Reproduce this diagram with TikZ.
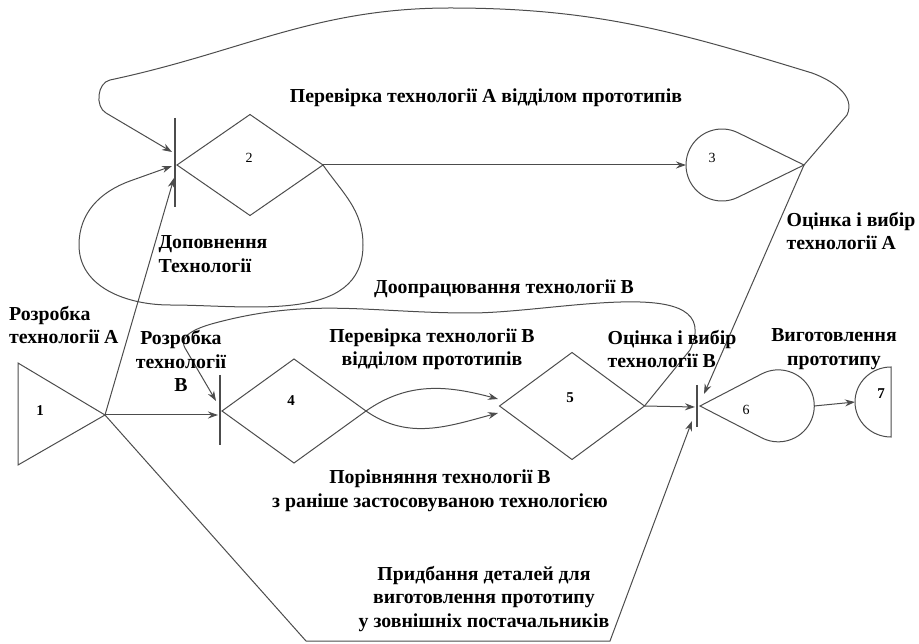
\documentclass[tikz,border=0pt]{standalone}
\usepackage{fontspec}
\setmainfont{Liberation Serif}
\usepackage{tikz}
\usetikzlibrary{shapes.geometric,arrows.meta,calc}
\tikzset{>={Stealth[length=10pt,width=7pt]}}
\tikzset{
  ln/.style={draw=black!70, line width=1pt},
  arr/.style={ln, ->},
  barline/.style={draw=black!70, line width=1.7pt},
  diam/.style={diamond, ln, inner sep=0pt, outer sep=0pt},
  hub/.style={circle, inner sep=0pt, outer sep=0pt, minimum size=72pt},
  txt/.style={font=\fontsize{19.8}{23.5}\selectfont\bfseries, inner sep=0pt, align=center},
  num/.style={font=\fontsize{15}{15}\selectfont\bfseries, inner sep=0pt},
  numthin/.style={font=\fontsize{14}{14}\selectfont, inner sep=0pt}
}

\begin{document}
\begin{tikzpicture}[x=1pt, y=1pt]
    \useasboundingbox (0,0) rectangle (919,-644);

    % Event 1
    \coordinate (t1) at (105,-415);
    \draw[ln] (t1) -- (18,-363) -- (18,-465) -- cycle;
    \node[num] (l1) at (40,-411) {1};

    % Events 2, 4, 5
    \node[diam, minimum width=146pt, minimum height=101pt] (d2) at (250,-165) {};
    \node[diam, minimum width=144pt, minimum height=104pt] (d4) at (294,-411) {};
    \node[diam, minimum width=145pt, minimum height=107pt] (d5) at (572,-406) {};
    \node[numthin] (l2) at (249,-158) {2};
    \node[num] (l4) at (291,-401) {4};
    \node[num] (l5) at (570,-398) {5};

    % Events 3, 6
    \node[hub] (n3) at (722,-165) {};
    \coordinate (t3) at (804,-165);
    \draw[ln] (t3) -- (n3.64) arc[start angle=64, end angle=296, radius=36pt] -- cycle;
    \node[numthin] (l3) at (712,-158) {3};

    \node[hub] (n6) at (778,-406) {};
    \coordinate (t6) at (700,-406);
    \draw[ln] (t6) -- (n6.117.5) arc[start angle=117.5, end angle=-117.5, radius=36pt] -- cycle;
    \node[numthin] (l6) at (746,-410) {6};

    % Event 7
    \coordinate (c7) at (891,-402);
    \coordinate (w7) at (855,-402);
    \draw[ln] ($(c7)+(0,35)$) arc[start angle=90, end angle=270, x radius=36pt, y radius=35pt] -- cycle;
    \node[num] (l7) at (881,-394) {7};

    % Merge bars
    \draw[barline] (175,-118) -- (175,-207);
    \draw[barline] (220,-375) -- (220,-445);
    \draw[barline] (697,-385) -- (697,-427);

    % Arrow ends on the bars
    \coordinate (in2a) at (172,-152);
    \coordinate (in2b) at (172,-166);
    \coordinate (in2c) at (174,-178);
    \coordinate (in4a) at (216,-401);
    \coordinate (in4b) at (218,-415);
    \coordinate (in5a) at (498,-399);
    \coordinate (in5b) at (498,-413);
    \coordinate (in6a) at (704,-394);
    \coordinate (in6b) at (695,-407);
    \coordinate (in6c) at (692,-421);

    % Works
    \draw[arr] (t1) -- (in2c);
    \draw[arr] (t1) -- (in4b);
    \draw[arr] (t1) -- (306,-641) -- (610,-641) -- (in6c);
    \draw[arr] (d2.east) -- (n3.west);
    \draw[arr] (d2.east) to[out=-55,in=90] (363,-245) to[out=-90,in=0] (170,-305)
        to[out=180,in=-90] (79,-245) to[out=90,in=200] (130,-181) -- (in2b);
    \draw[arr] (t3) -- (847,-115) to[out=65,in=-20] (812,-73) to[out=163,in=0] (450,-8)
        to[out=180,in=12] (110,-80) to[out=192,in=150] (106,-113) -- (in2a);
    \draw[arr] (t3) -- (in6a);
    \draw[arr] (d4.east) to[out=35,in=165] (in5a);
    \draw[arr] (d4.east) to[out=-35,in=-165] (in5b);
    \draw[arr] (d5.east) -- (690,-350) to[out=65,in=0] (470,-313)
        to[out=180,in=15] (215,-323) to[out=195,in=120] (185,-348) -- (in4a);
    \draw[arr] (d5.east) -- (in6b);
    \draw[arr] (n6.east) -- (w7);

    % Labels of the works
    \node[txt] (tA) at (486,-98) {Перевірка технології А відділом прототипів};
    \node[txt, align=left] (tDop) at (213,-254) {Доповнення\\Технології};
    \node[txt, align=left] (tOcA) at (851,-231) {Оцінка і вибір\\технології А};
    \node[txt] (tDoopr) at (504,-289) {Доопрацювання технології В};
    \node[txt, align=left, anchor=west] (tRozA) at (9,-325) {Розробка\\технології А};
    \node[txt] (tRozB) at (181,-361) {Розробка\\технології\\В};
    \node[txt] (tPerB) at (432,-349) {Перевірка технології В\\відділом прототипів};
    \node[txt, align=left] (tOcB) at (672,-349) {Оцінка і вибір\\технології В};
    \node[txt] (tVyg) at (834,-349) {Виготовлення\\прототипу};
    \node[txt] (tPor) at (440,-491) {Порівняння технології В\\з раніше застосовуваною технологією};
    \node[txt] (tPryd) at (484,-599) {Придбання деталей для\\виготовлення прототипу\\у зовнішніх постачальників};

\end{tikzpicture}
\end{document}
